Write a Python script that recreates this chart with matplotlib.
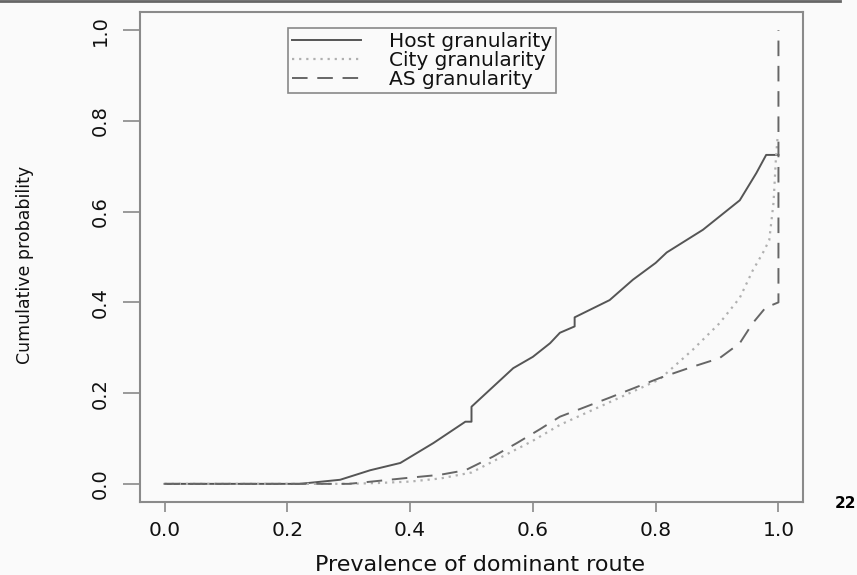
import matplotlib
matplotlib.use("Agg")
import matplotlib.pyplot as plt
from matplotlib.lines import Line2D

# ---- data ----
host_x = [0.0, 0.22, 0.286, 0.335, 0.384, 0.438, 0.49, 0.5, 0.5, 0.568, 0.6, 0.628,
          0.644, 0.668, 0.668, 0.725, 0.763, 0.80, 0.818, 0.877, 0.937, 0.964, 0.98, 1.0]
host_y = [0.0, 0.0, 0.009, 0.03, 0.046, 0.09, 0.137, 0.137, 0.17, 0.255, 0.28, 0.31,
          0.333, 0.347, 0.367, 0.405, 0.45, 0.487, 0.51, 0.56, 0.625, 0.685, 0.725, 0.725]

city_x = [0.0, 0.30, 0.35, 0.40, 0.45, 0.50, 0.55, 0.60, 0.644, 0.725, 0.806, 0.86,
          0.904, 0.937, 0.958, 0.975, 0.985, 0.992, 0.996, 0.999]
city_y = [0.0, 0.0, 0.002, 0.005, 0.012, 0.025, 0.06, 0.095, 0.13, 0.18, 0.23, 0.295,
          0.354, 0.41, 0.47, 0.51, 0.537, 0.62, 0.72, 0.77]

as_x = [0.0, 0.30, 0.33, 0.395, 0.449, 0.49, 0.535, 0.574, 0.611, 0.644, 0.725, 0.806,
        0.86, 0.904, 0.937, 0.958, 0.98, 0.982, 1.0, 1.0]
as_y = [0.0, 0.0, 0.004, 0.013, 0.02, 0.03, 0.06, 0.09, 0.12, 0.148, 0.19, 0.233,
        0.258, 0.277, 0.31, 0.354, 0.39, 0.39, 0.40, 1.0]

series_labels = ["Host granularity", "City granularity", "AS granularity"]
xticks = [0.0, 0.2, 0.4, 0.6, 0.8, 1.0]
yticks = [0.0, 0.2, 0.4, 0.6, 0.8, 1.0]

bg = "#fafafa"
txt = "#111111"
fig = plt.figure(figsize=(8.57, 5.75), dpi=100, facecolor=bg)
ax = fig.add_axes([140/857, 1-502/575, (803-140)/857, (502-12)/575], facecolor=bg)

ax.plot(host_x, host_y, color="#555555", lw=1.4, ls="-", label=series_labels[0])
ax.plot(city_x, city_y, color="#b0b0b0", lw=1.6, ls=(0, (1, 2.2)), label=series_labels[1])
ax.plot(as_x, as_y, color="#666666", lw=1.4, ls=(0, (8, 5)), label=series_labels[2])

ax.set_xlim(-0.04, 1.04)
ax.set_ylim(-0.04, 1.04)
for s in ax.spines.values():
    s.set_color("#8a8a8a")
    s.set_linewidth(1.5)

ax.set_xticks(xticks)
ax.set_xticklabels([f"{v:.1f}" for v in xticks], fontsize=14.5, color=txt)
ax.set_yticks(yticks)
ax.set_yticklabels([f"{v:.1f}" for v in yticks], fontsize=14, color=txt,
                   rotation=90, va="center")
ax.tick_params(axis="x", length=7, width=1.2, color="#888888", pad=7)
ax.tick_params(axis="y", length=12, width=1.2, color="#888888", pad=10)

ax.set_xlabel("Prevalence of dominant route", fontsize=16, color=txt)
ax.xaxis.set_label_coords((480-140)/663, (502-565)/490)
ax.xaxis.label.set_va("center")
ax.set_ylabel("Cumulative probability", fontsize=12.5, color=txt)
ax.yaxis.set_label_coords((25-140)/663, (502-265)/490)
ax.yaxis.label.set_va("center")

leg = ax.legend(loc="upper left", bbox_to_anchor=((288-140)/663, (502-28)/490),
                frameon=True, fancybox=False, edgecolor="#888888", facecolor=bg,
                framealpha=1, fontsize=14.5, handlelength=3.4, handletextpad=1.4,
                borderpad=0.2, labelspacing=0.0, borderaxespad=0)
leg.get_frame().set_linewidth(1.2)
for t in leg.get_texts():
    t.set_color(txt)

fig.text(856/857, 1-503/575, "22", fontsize=11, fontweight="bold", ha="right", va="center")
fig.add_artist(Line2D([0, 840/857], [1-1/575, 1-1/575], transform=fig.transFigure,
                      color="#666666", lw=2))

fig.savefig("out.png", dpi=100, facecolor=bg)
